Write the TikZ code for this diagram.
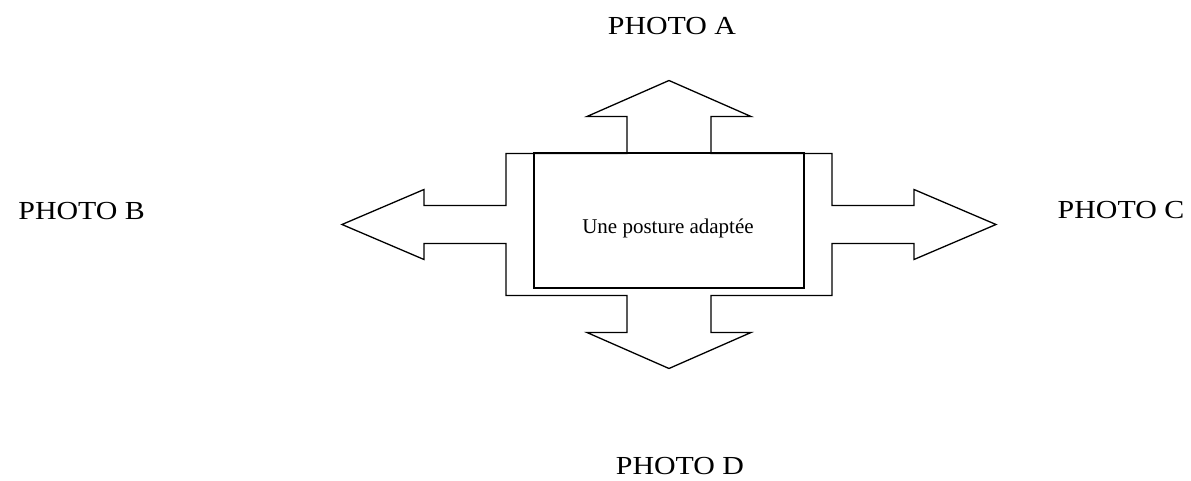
\documentclass[tikz,border=0pt]{standalone}
\usepackage{fontspec}
\usepackage{graphicx}
\setmainfont{Liberation Serif}

\tikzset{
    photo/.style={anchor=base, inner sep=0pt, font=\fontsize{26}{26}\selectfont},
    outline/.style={line width=1.3pt, line join=miter},
    cadre/.style={line width=2pt},
}
\newcommand{\photolabel}[1]{\scalebox{1.15}[1]{#1}}

\begin{document}
\begin{tikzpicture}[x=1pt,y=1pt]
    \useasboundingbox (-669,-256.5) rectangle (522,224.5);

    % croix a quatre fleches
    \draw[outline] (-163,71) -- (-42,71) -- (-42,108) -- (-82,108) -- (0,144)
        -- (82,108) -- (42,108) -- (42,71) -- (163,71)
        -- (163,19) -- (245,19) -- (245,35) -- (327,0) -- (245,-35) -- (245,-19) -- (163,-19)
        -- (163,-71) -- (42,-71) -- (42,-108) -- (82,-108) -- (0,-144)
        -- (-82,-108) -- (-42,-108) -- (-42,-71) -- (-163,-71)
        -- (-163,-19) -- (-245,-19) -- (-245,-35) -- (-327,0) -- (-245,35) -- (-245,19) -- (-163,19)
        -- cycle;

    % cadre central
    \draw[cadre] (-135,-63.5) rectangle (135,71);
    \node[anchor=base, inner sep=0pt, font=\fontsize{21}{21}\selectfont] (centre) at (-1,-8.8) {Une posture adaptée};

    % photos
    \node[photo] (photoA) at (3,189.5) {\photolabel{PHOTO A}};
    \node[photo] (photoB) at (-587.3,5.2) {\photolabel{PHOTO B}};
    \node[photo] (photoC) at (452,5.5) {\photolabel{PHOTO C}};
    \node[photo] (photoD) at (11,-250.5) {\photolabel{PHOTO D}};
\end{tikzpicture}
\end{document}
